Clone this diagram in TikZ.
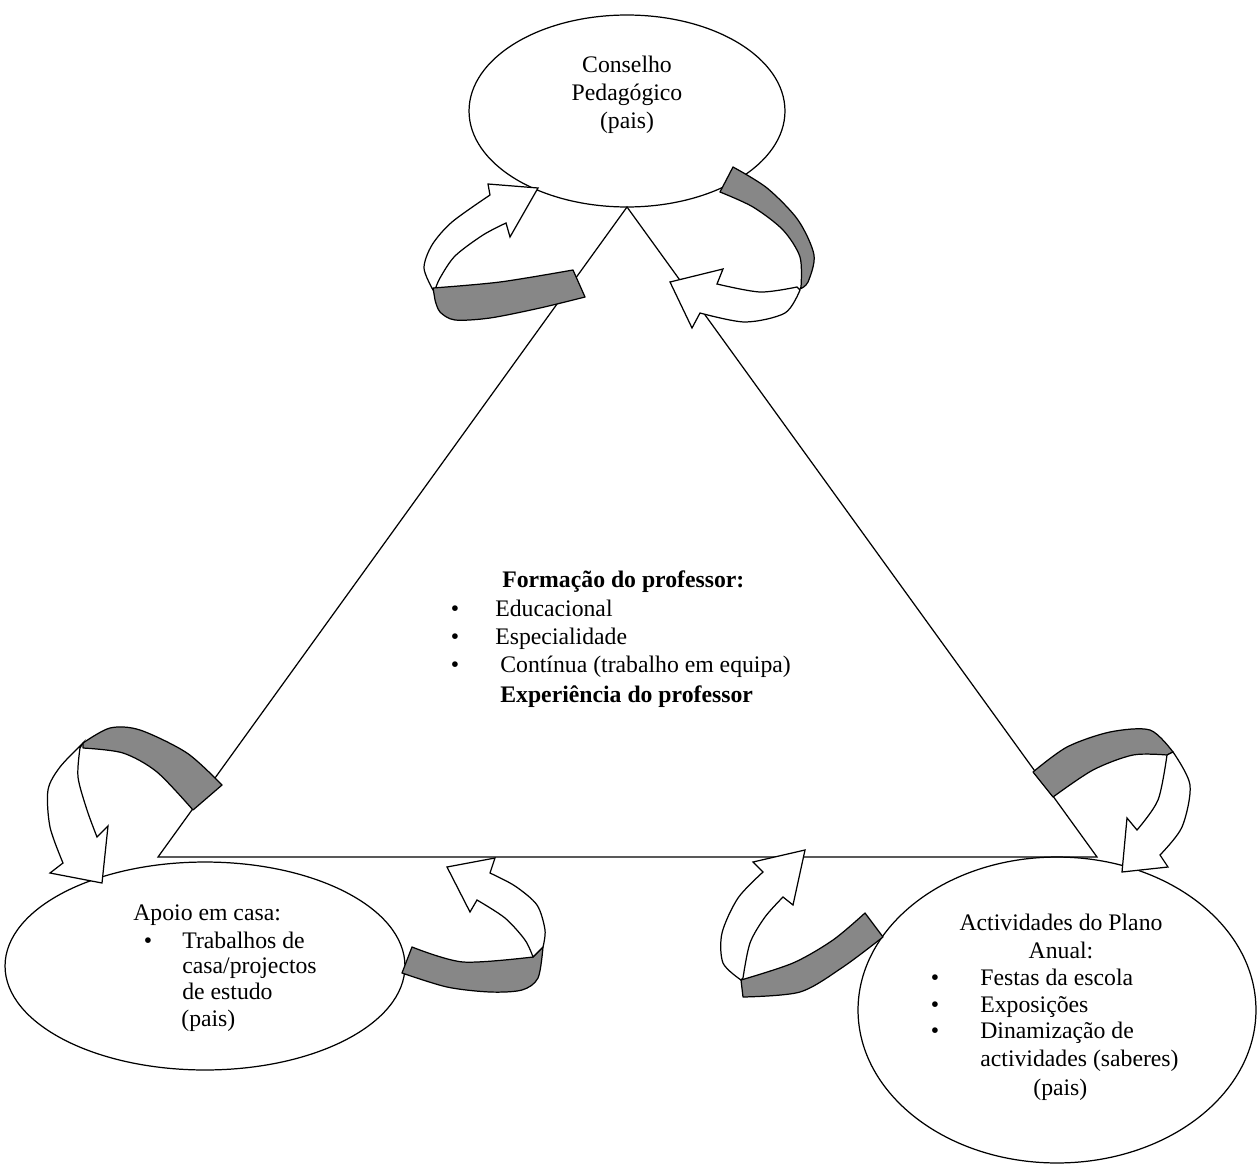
\documentclass[tikz,border=0pt]{standalone}
\usepackage{fontspec}
\setmainfont{Liberation Serif}
\usetikzlibrary{shapes.geometric}

\begin{document}
\begin{tikzpicture}[x=0.02cm,y=-0.02cm,
    txt/.style={font=\fontsize{13.5}{15.6}\selectfont,inner sep=0pt,text height=9pt,text depth=3pt},
    oval/.style={draw,ellipse,inner sep=0pt,line width=0.7pt},
    band/.style={draw,fill=black!47,line width=0.7pt,line join=round},
    body/.style={draw,fill=white,line width=0.7pt}]
  \useasboundingbox (0,0) rectangle (1257,1166);

  \coordinate (apex) at (627,207);
  \coordinate (lv) at (158,857);
  \coordinate (rv) at (1097,857);
  \draw[line width=0.7pt] (apex) -- (lv) -- (rv) -- cycle;

  \node[oval,minimum width=6.32cm,minimum height=3.84cm] (conselho) at (627,111){};
  \node[oval,minimum width=8cm,minimum height=4.16cm] (apoio) at (205,966){};
  \node[oval,minimum width=7.96cm,minimum height=6.12cm] (plano) at (1057,1010){};

  \node[txt] (c1) at (627,67){Conselho};
  \node[txt] (c2) at (627,95){Pedagógico};
  \node[txt] (c3) at (627,123){(pais)};

  \node[txt,anchor=west,font=\fontsize{13.5}{15.6}\selectfont\bfseries] (f0) at (502,582){Formação do professor:};
  \foreach \y in {611,639,667} {
    \node[txt] (fb\y) at (455,\y){•};
  }
  \node[txt,anchor=west] (f1) at (495,611){Educacional};
  \node[txt,anchor=west] (f2) at (495,639){Especialidade};
  \node[txt,anchor=west] (f3) at (500,667){Contínua (trabalho em equipa)};
  \node[txt,anchor=west,font=\fontsize{13.5}{15.6}\selectfont\bfseries] (f4) at (500,697){Experiência do professor};

  \node[txt,anchor=west] (a0) at (133,915){Apoio em casa:};
  \node[txt] (ab) at (148,943){•};
  \node[txt,anchor=west] (a1) at (182,943){Trabalhos de};
  \node[txt,anchor=west] (a2) at (182,968){casa/projectos};
  \node[txt,anchor=west] (a3) at (182,994){de estudo};
  \node[txt,anchor=west] (a4) at (181,1021){(pais)};

  \node[txt] (p0) at (1061,925){Actividades do Plano};
  \node[txt] (p1) at (1061,953){Anual:};
  \foreach \y in {980,1007,1033} {
    \node[txt] (pb\y) at (935,\y){•};
  }
  \node[txt,anchor=west] (p2) at (980,980){Festas da escola};
  \node[txt,anchor=west] (p3) at (980,1007){Exposições};
  \node[txt,anchor=west] (p4) at (980,1033){Dinamização de};
  \node[txt,anchor=west] (p5) at (980,1061){actividades (saberes)};
  \node[txt,anchor=west] (p6) at (1033,1090){(pais)};

  \filldraw[body] plot[smooth] coordinates {(433,290) (424,268) (432,245) (452,222) (490,195)} -- (488,184) -- (538,188) -- (510,237) -- (506,223)
    -- plot[smooth] coordinates {(506,223) (483,235) (455,256) (440,278) (435,290)} -- cycle;
  \filldraw[band] plot[smooth] coordinates {(433,288) (500,282) (573,270)} -- (585,297)
    -- plot[smooth] coordinates {(585,297) (540,308) (490,318) (455,320) (440,312) (435,300)} -- cycle;

  \filldraw[band] plot[smooth] coordinates {(733,167) (767,188) (798,220) (814,255) (808,282) (800,289)}
    -- plot[smooth] coordinates {(801,287) (800,257) (783,230) (753,207) (720,192)} -- cycle;
  \filldraw[body] plot[smooth] coordinates {(800,290) (785,313) (745,322) (700,313)} -- (692,328) -- (670,282) -- (723,269) -- (717,284)
    -- plot[smooth] coordinates {(717,284) (760,292) (797,287)} -- cycle;

  \filldraw[band] plot[smooth] coordinates {(83,743) (110,728) (140,730) (187,753) (222,785)} -- (193,810)
    -- plot[smooth] coordinates {(193,810) (157,772) (123,753) (83,748)} -- cycle;
  \filldraw[body] plot[smooth] coordinates {(83,743) (60,767) (48,790) (50,827) (63,863)} -- (50,873) -- (102,883) -- (108,826) -- (97,837)
    -- plot[smooth] coordinates {(97,837) (87,810) (78,777) (80,748)} -- cycle;

  \filldraw[band] plot[smooth] coordinates {(412,947) (463,962) (533,957)} -- (543,947)
    -- plot[smooth] coordinates {(543,947) (538,978) (522,990) (490,992) (447,987) (402,973)} -- cycle;
  \filldraw[body] plot[smooth] coordinates {(543,947) (545,930) (537,905) (515,886) (490,873)} -- (495,858) -- (447,867) -- (470,912) -- (477,900)
    -- plot[smooth] coordinates {(477,900) (505,918) (525,940) (533,957)} -- cycle;

  \filldraw[band] plot[smooth] coordinates {(865,913) (833,940) (793,963) (741,980)} -- (743,997)
    -- plot[smooth] coordinates {(743,997) (800,992) (843,967) (883,937)} -- cycle;
  \filldraw[body] plot[smooth] coordinates {(741,980) (723,963) (722,933) (738,898) (763,872)} -- (753,862) -- (805,850) -- (793,905) -- (783,897)
    -- plot[smooth] coordinates {(783,897) (765,917) (750,943) (743,978)} -- cycle;

  \filldraw[band] plot[smooth] coordinates {(1033,772) (1067,747) (1110,732) (1150,730) (1173,752)} -- (1167,755)
    -- plot[smooth] coordinates {(1167,755) (1133,755) (1093,770) (1053,797)} -- cycle;
  \filldraw[body] plot[smooth] coordinates {(1173,752) (1190,785) (1182,827) (1160,855)} -- (1168,867) -- (1122,872) -- (1127,818) -- (1137,830)
    -- plot[smooth] coordinates {(1137,830) (1158,800) (1167,755)} -- cycle;
\end{tikzpicture}
\end{document}
